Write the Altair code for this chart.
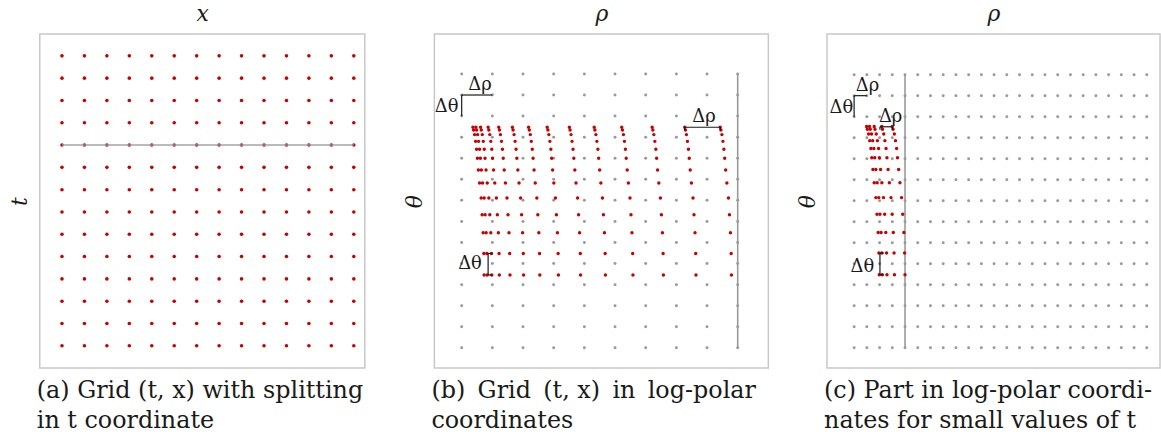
import altair as alt
import pandas as pd

SERIF = "DejaVu Serif"
RED = "#c80000"
GRAY = "#9a9a9a"
INK = "#1a1a1a"
TH = "\u2009"

# ---------------- data (grid units) ----------------
# (a) uniform (t, x) grid
a_x_nodes = list(range(14))
a_t_nodes = list(range(14))
a_split_t = 9

# (b) log-polar: grey reference grid + red image of the (t, x) grid
b_rho_nodes = list(range(10))
b_theta_nodes = list(range(14))
b_boundary_rho = 9
b_red_theta = [10.47, 10.34, 10.12, 9.80, 9.43, 9.00, 8.44, 7.82, 7.11, 6.32, 5.46, 4.48, 3.46]
b_red_rho_top = [0.366, 0.464, 0.616, 0.862, 1.209, 1.653, 2.182, 2.788, 3.511, 4.321, 5.219, 6.211, 7.274, 8.43]
b_red_rho_shift = [0.0, 0.023, 0.055, 0.088, 0.12, 0.146, 0.178, 0.217, 0.269, 0.301, 0.334, 0.357, 0.366]

# (c) small-t part: finer grey grid
c_rho_nodes = list(range(24))
c_theta_nodes = list(range(14))
c_boundary_rho = 4
c_red_theta = [10.53, 10.40, 10.18, 9.86, 9.49, 9.05, 8.49, 7.86, 7.15, 6.36, 5.49, 4.51, 3.48]
c_red_rho_top = [0.977, 1.21, 1.58, 2.17, 3.0]
c_red_rho_shift = [0.0, 0.06, 0.16, 0.25, 0.34, 0.41, 0.5, 0.6, 0.73, 0.82, 0.91, 0.97, 1.0]

# annotation brackets (x, y, x2, y2) and labels (x, y, text)
b_brackets = [
    (0, 11, 0, 12), (0, 12, 1, 12),
    (7.27, 10.47, 8.43, 10.47), (7.27, 10.47, 7.27, 10.33), (8.43, 10.47, 8.43, 10.33),
    (0.862, 4.48, 0.862, 3.46), (0.862, 4.48, 0.99, 4.48), (0.862, 3.46, 0.99, 3.46),
]
b_labels = [(0.6, 12.45, "Δρ"), (-0.49, 11.42, "Δθ"), (7.9, 10.95, "Δρ"), (0.27, 3.98, "Δθ")]
c_brackets = [
    (0, 11, 0, 12), (0, 12, 1, 12),
    (2.03, 10.52, 3.0, 10.52), (2.03, 10.52, 2.03, 10.38), (3.0, 10.52, 3.0, 10.38),
    (2.03, 4.51, 2.03, 3.48), (2.03, 4.51, 2.33, 4.51), (2.03, 3.48, 2.33, 3.48),
]
c_labels = [(1.05, 12.45, "Δρ"), (-1.0, 11.42, "Δθ"), (2.87, 11.0, "Δρ"), (0.65, 3.85, "Δθ")]

captions = {
    "a": ["(a) Grid (t, x) with splitting", "in t coordinate"],
    "b": [f"(b){TH} Grid{TH} (t, x){TH} in{TH} log-polar", "coordinates"],
    "c": ["(c) Part in log-polar coordi-", "nates for small values of t"],
}


def grid_df(xs, ys):
    return pd.DataFrame([{"x": x, "y": y} for x in xs for y in ys])


def red_df(top, shift, thetas):
    rows = []
    for k, th in enumerate(thetas):
        for r in top:
            rows.append({"x": r + shift[k], "y": th})
    return pd.DataFrame(rows)


def seg_df(segs):
    return pd.DataFrame(segs, columns=["x", "y", "x2", "y2"])


def lab_df(labs):
    return pd.DataFrame(labs, columns=["x", "y", "text"])


def panel(xdom, ydom, w, h, xtitle, ytitle, caption, layers_fn):
    X = alt.X("x:Q", scale=alt.Scale(domain=xdom, nice=False, zero=False),
              axis=alt.Axis(orient="top", title=xtitle, labels=False, ticks=False, domain=False,
                            grid=False, titleFont=SERIF, titleFontSize=22, titleFontStyle="italic",
                            titleFontWeight="normal", titlePadding=9, titleColor=INK))
    Y = alt.Y("y:Q", scale=alt.Scale(domain=ydom, nice=False, zero=False),
              axis=alt.Axis(orient="left", title=ytitle, labels=False, ticks=False, domain=False,
                            grid=False, titleFont=SERIF, titleFontSize=22, titleFontStyle="italic",
                            titleFontWeight="normal", titlePadding=8, titleColor=INK))
    layers = layers_fn(X, Y)
    return alt.layer(*layers).properties(
        width=w, height=h,
        title=alt.TitleParams(text=caption, orient="bottom", anchor="start", font=SERIF,
                              fontSize=24, fontWeight="normal", lineHeight=30, offset=11,
                              color=INK, frame="group", dx=-3),
    )


def a_layers(X, Y):
    pts = alt.Chart(grid_df(a_x_nodes, a_t_nodes)).mark_circle(size=13, color=RED, opacity=1).encode(x=X, y=Y)
    line = alt.Chart(pd.DataFrame([{"x": a_x_nodes[0], "x2": a_x_nodes[-1], "y": a_split_t}])).mark_rule(
        color=GRAY, strokeWidth=1.6, opacity=0.9).encode(x=X, x2="x2:Q", y=Y)
    return [pts, line]


def log_layers(rho_nodes, theta_nodes, boundary, red, brackets, labels):
    def f(X, Y):
        g = alt.Chart(grid_df(rho_nodes, theta_nodes)).mark_circle(size=9, color=GRAY, opacity=1).encode(x=X, y=Y)
        ln = alt.Chart(pd.DataFrame([{"x": boundary, "y": theta_nodes[0], "y2": theta_nodes[-1]}])).mark_rule(
            color=GRAY, strokeWidth=1.6).encode(x=X, y=Y, y2="y2:Q")
        r = alt.Chart(red).mark_circle(size=12, color=RED, opacity=1).encode(x=X, y=Y)
        br = alt.Chart(seg_df(brackets)).mark_rule(color=INK, strokeWidth=1.2).encode(
            x=X, y=Y, x2="x2:Q", y2="y2:Q")
        tx = alt.Chart(lab_df(labels)).mark_text(font=SERIF, fontSize=18, color=INK, align="center",
                                                baseline="middle").encode(x=X, y=Y, text="text:N")
        return [g, ln, r, br, tx]
    return f


A = panel([-0.99, 13.49], [-1.0, 13.975], 327, 336, "x", "t", captions["a"], a_layers)
B = panel([-0.89, 10.0], [-0.96, 14.89], 336, 336, "ρ", "θ", captions["b"],
          log_layers(b_rho_nodes, b_theta_nodes, b_boundary_rho,
                     red_df(b_red_rho_top, b_red_rho_shift, b_red_theta), b_brackets, b_labels))
C = panel([-2.13, 24.04], [-0.963, 14.93], 335, 336, "ρ", "θ", captions["c"],
          log_layers(c_rho_nodes, c_theta_nodes, c_boundary_rho,
                     red_df(c_red_rho_top, c_red_rho_shift, c_red_theta), c_brackets, c_labels))

chart = alt.hconcat(alt.hconcat(A, B, spacing=37), C, spacing=26).properties(
    padding={"left": 8, "top": 0, "right": 0, "bottom": 0},
    background="white",
).configure_view(stroke="#c8c8c8", strokeWidth=1.5)

chart.save("out.html", embed_options={"renderer": "svg", "actions": False})
